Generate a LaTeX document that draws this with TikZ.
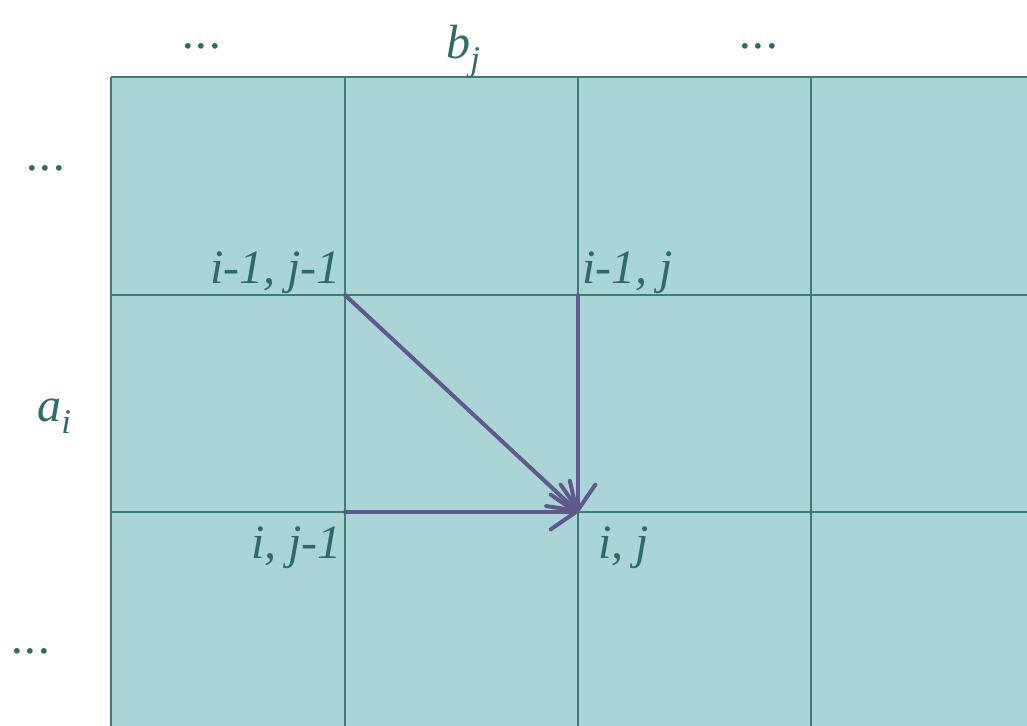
\documentclass[tikz,border=0pt]{standalone}
\usepackage{fontspec}
\setmainfont{Liberation Serif}
\usetikzlibrary{arrows.meta}
\definecolor{cellfill}{HTML}{A9D5D6}
\definecolor{gridline}{HTML}{3F7B79}
\definecolor{txt}{HTML}{2F6A66}
\definecolor{arr}{HTML}{5F5A8B}
\newcommand{\subtxt}[1]{\raisebox{-9pt}{\fontsize{26}{30}\selectfont\itshape #1}}
\newcommand{\dotsx}{.\kern1.2pt.\kern1.2pt.}
\begin{document}
\begin{tikzpicture}[x=0.75pt,y=-0.75pt,
  lbl/.style={text=txt,font=\fontsize{36}{42}\selectfont\itshape,inner sep=0pt},
  gl/.style={draw=gridline,line width=1.5pt},
  link/.style={draw=arr,line width=3pt,line cap=round,-{Straight Barb[length=19pt,width=26pt,line width=3pt,round]}}]
\useasboundingbox (0,0) rectangle (1027,725);
\begin{scope}
\clip (0,0) rectangle (1027,725);
\fill[cellfill] (111,77) rectangle (1040,740);
\foreach \x in {111,345,578,811} \draw[gl] (\x,77) -- (\x,740);
\foreach \y in {77,295,512} \draw[gl] (111,\y) -- (1040,\y);
\end{scope}
\coordinate (c11) at (345,295);
\coordinate (c12) at (578,295);
\coordinate (c21) at (345,512);
\coordinate (c22) at (578,512);
\draw[link] (c11) -- (c22);
\draw[link] (c12) -- (c22);
\draw[link] (c21) -- (c22);
\node[lbl,anchor=base east] (l11) at (341,283) {i-1, j-1};
\node[lbl,anchor=base west] (l12) at (582,283) {i-1, j};
\node[lbl,anchor=base east] (l21) at (342,558) {i, j-1};
\node[lbl,anchor=base west] (l22) at (598,558) {i, j};
\node[lbl,anchor=base west] (bj) at (446,58) {b\subtxt{j}};
\node[lbl,anchor=base west] (ai) at (37,421) {a\subtxt{i}};
\node[lbl,anchor=base west] (d1) at (183,48) {\dotsx};
\node[lbl,anchor=base west] (d2) at (740,48) {\dotsx};
\node[lbl,anchor=base west] (d3) at (27,170) {\dotsx};
\node[lbl,anchor=base west] (d4) at (12,653) {\dotsx};
\end{tikzpicture}
\end{document}
